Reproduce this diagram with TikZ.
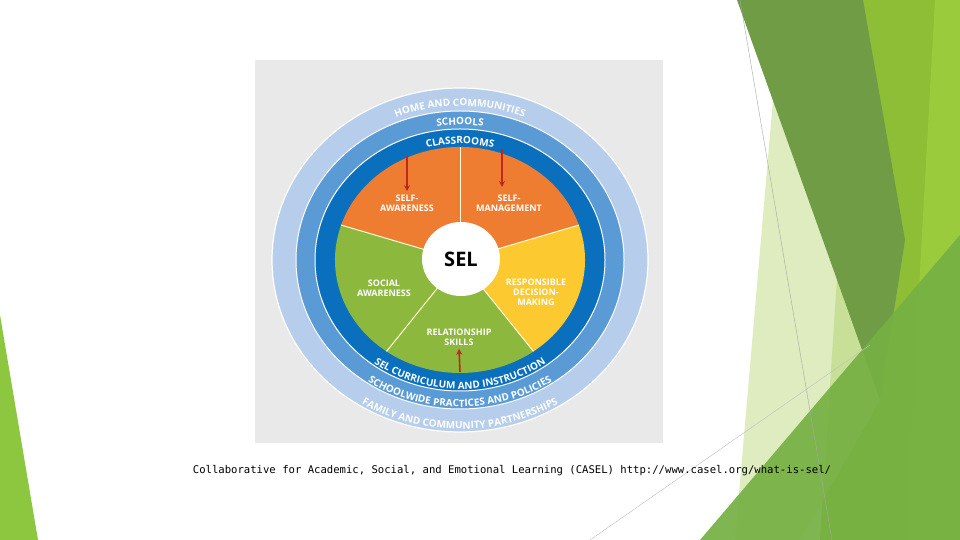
\documentclass[tikz,border=0pt]{standalone}
\usepackage{fontspec}
\newfontfamily\selfont{Open Sans}
\newfontfamily\capfont{DejaVu Sans Mono}
\usetikzlibrary{decorations.text,arrows.meta,shapes.geometric}
\definecolor{orng}{HTML}{EE7D31}
\definecolor{yel}{HTML}{FDC930}
\definecolor{grn}{HTML}{8CB83D}
\definecolor{dblue}{HTML}{0A70BE}
\definecolor{mblue}{HTML}{5B9BD5}
\definecolor{lblue}{HTML}{B6CEEC}
\definecolor{bgray}{HTML}{E9E9E9}
\definecolor{arr}{HTML}{C0281E}
\definecolor{g1}{HTML}{8DC63F}
\definecolor{g2}{HTML}{8DBE35}
\definecolor{g3}{HTML}{9ACB3C}
\definecolor{g4}{HTML}{D6E8B0}
\definecolor{g5}{HTML}{6F9C45}
\definecolor{g6}{HTML}{76B043}
\tikzset{
  lbl/.style={text=white,font=\selfont\bfseries\fontsize{9}{10}\selectfont,align=center},
  redarrow/.style={draw=arr,line width=1.6pt,-{Stealth[length=6pt,width=6pt]}},
  sep/.style={draw=white!85!yellow,line width=1pt},
  rt/.style={decorate,decoration={text along path,text align=center,text color=white,text={|\selfont\bfseries\fontsize{10}{10}\selectfont|#1}}}
}
\begin{document}
\begin{tikzpicture}[x=1pt,y=1pt]
\useasboundingbox (0,0) rectangle (960,540);
\fill[white] (0,0) rectangle (960,540);
% background decoration
\fill[g1] (0,225) -- (38,0) -- (0,0) -- cycle;
\fill[g2] (855,540) -- (960,540) -- (960,0) -- (820,0) -- cycle;
\fill[g3] (935,540) -- (960,540) -- (960,0) -- (905,0) -- cycle;
\fill[g4,opacity=0.8] (773,440) -- (880,140) -- (800,0) -- (735,0) -- cycle;
\fill[g5] (737,540) -- (863,540) -- (905,300) -- (880,140) -- cycle;
\fill[g6,opacity=0.92] (700,0) -- (960,305) -- (960,0) -- cycle;
\draw[gray!70,line width=0.4pt] (740,540) -- (832,0);
\draw[gray!50,line width=0.4pt] (590,0) -- (870,195);
% gray panel
\fill[bgray] (255,97) rectangle (663,480);
\coordinate (c) at (460,280);
\begin{scope}[shift={(c)}]
% rings
\fill[lblue] (0,0) ellipse[x radius=188,y radius=172];
\draw[white,line width=1.2pt] (0,0) ellipse[x radius=188,y radius=172];
\fill[mblue] (0,0) ellipse[x radius=164,y radius=149];
\draw[white,line width=1pt] (0,0) ellipse[x radius=164,y radius=149];
\fill[dblue] (0,0) ellipse[x radius=145,y radius=131];
\draw[white,line width=1pt] (0,0) ellipse[x radius=145,y radius=131];
% sectors
\fill[orng] (0,0) -- (18:125 and 113) arc[start angle=18,end angle=162,x radius=125,y radius=113] -- cycle;
\fill[yel] (0,0) -- (-54:125 and 113) arc[start angle=-54,end angle=18,x radius=125,y radius=113] -- cycle;
\fill[grn] (0,0) -- (162:125 and 113) arc[start angle=162,end angle=306,x radius=125,y radius=113] -- cycle;
\foreach \a in {90,18,-54,-126,162}
  \draw[sep] (0,0) -- (\a:125 and 113);
\node[fill=white,ellipse,inner sep=0pt,minimum width=78pt,minimum height=74pt,font=\selfont\bfseries\fontsize{20}{21}\selectfont] (sel) at (1,1) {SEL};
% ring texts
\path[rt=HOME AND COMMUNITIES] (150:170 and 154) arc[start angle=150,end angle=30,x radius=170,y radius=154];
\path[rt=SCHOOLS] (150:149 and 135) arc[start angle=150,end angle=30,x radius=149,y radius=135];
\path[rt=CLASSROOMS] (150:129 and 116) arc[start angle=150,end angle=30,x radius=129,y radius=116];
\path[rt=SEL CURRICULUM AND INSTRUCTION] (195:143 and 129) arc[start angle=195,end angle=345,x radius=143,y radius=129];
\path[rt=SCHOOLWIDE PRACTICES AND POLICIES] (190:163 and 147) arc[start angle=190,end angle=350,x radius=163,y radius=147];
\path[rt=FAMILY AND COMMUNITY PARTNERSHIPS] (185:186 and 169) arc[start angle=185,end angle=355,x radius=186,y radius=169];
\end{scope}
% labels
\node[lbl] (sa) at (407,337) {SELF-\\AWARENESS};
\node[lbl] (sm) at (509,337) {SELF-\\MANAGEMENT};
\node[lbl] (soc) at (384,252) {SOCIAL\\AWARENESS};
\node[lbl] (rdm) at (536,248) {RESPONSIBLE\\DECISION-\\MAKING};
\node[lbl] (rel) at (459,203) {RELATIONSHIP\\SKILLS};
% arrows
\coordinate (a1) at (407,384);
\coordinate (a2) at (502,391);
\coordinate (a3) at (460,168);
\draw[redarrow] (a1) -- (sa.north);
\draw[redarrow] (a2) -- (502,353);
\draw[redarrow] (a3) -- (rel.south);
% caption
\node[font=\capfont\fontsize{10.6}{12}\selectfont] (cap) at (512,69) {Collaborative for Academic, Social, and Emotional Learning (CASEL) http://www.casel.org/what-is-sel/};
\end{tikzpicture}
\end{document}
